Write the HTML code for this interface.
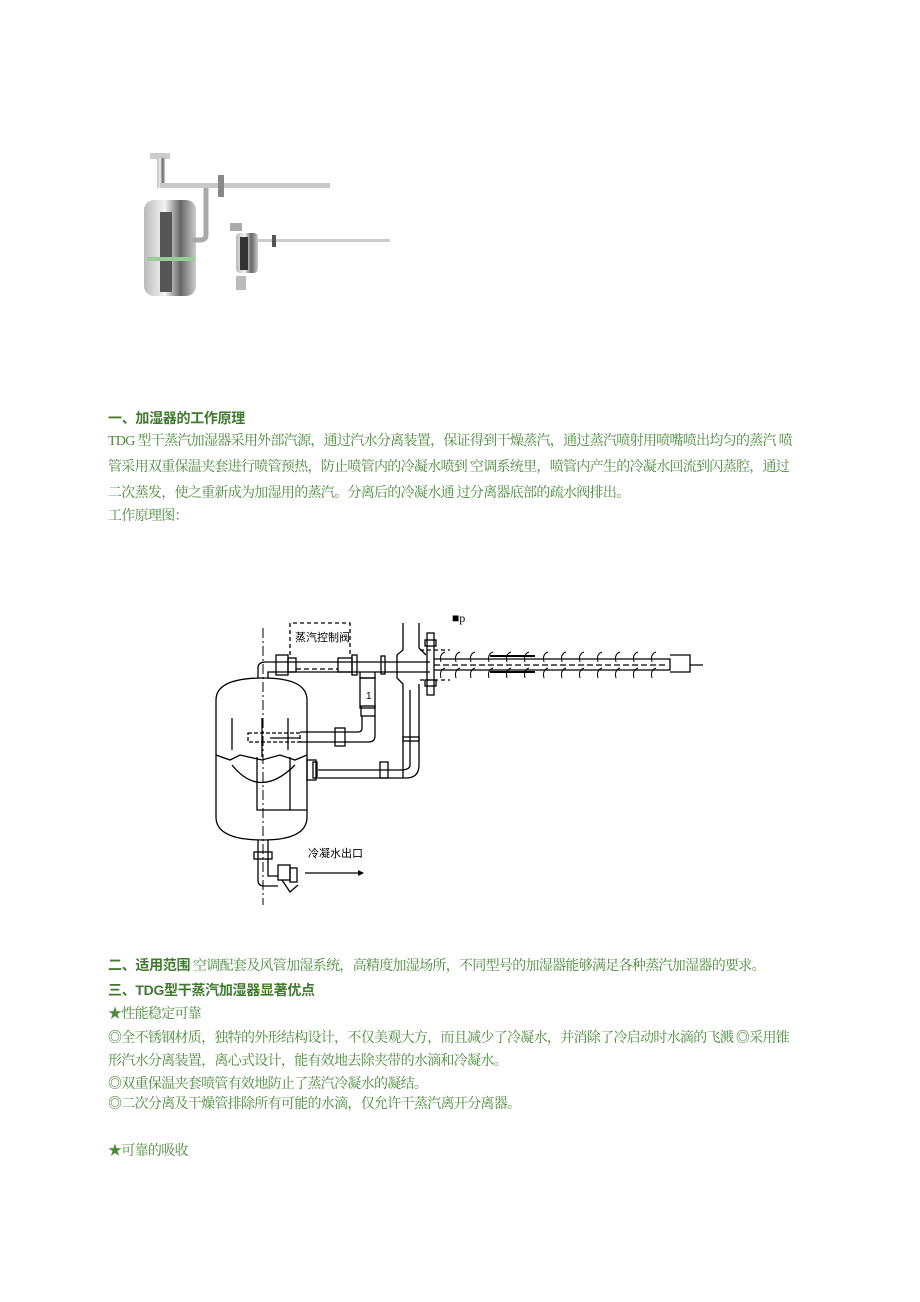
<!DOCTYPE html>
<html><head><meta charset="utf-8"><style>
body{margin:0;background:#fff;width:920px;height:1302px;position:relative;overflow:hidden;font-family:"Liberation Serif","Noto Serif CJK SC","Noto Sans CJK SC",serif;}
.t{position:absolute;left:108px;font-size:14px;color:#4a8a3a;white-space:nowrap;letter-spacing:-0.7px;line-height:16px}
.b{font-weight:bold;color:#3f7a2f;font-family:"Liberation Sans","Noto Sans CJK SC",sans-serif;letter-spacing:-0.3px}
</style></head><body>
<svg style="position:absolute;left:0;top:0" width="920" height="1302">
<defs><linearGradient id="m" x1="0" x2="1"><stop offset="0" stop-color="#bbb"/><stop offset=".4" stop-color="#f2f2f2"/><stop offset=".7" stop-color="#666"/><stop offset="1" stop-color="#ccc"/></linearGradient></defs>
<rect x="150" y="153" width="20" height="6" fill="#ccc"/>
<rect x="157" y="158" width="8" height="30" fill="url(#m)"/>
<rect x="160" y="183" width="170" height="5" fill="#c8c8c8"/>
<rect x="218" y="175" width="6" height="22" fill="#888"/>
<rect x="144" y="200" width="52" height="96" rx="10" fill="url(#m)"/>
<rect x="160" y="212" width="12" height="80" fill="#555"/>
<rect x="147" y="257" width="48" height="4" fill="#9c9"/>
<path d="M206 188 V235 Q206 240 200 240 H190" stroke="#aaa" stroke-width="5" fill="none"/>
<rect x="236" y="233" width="22" height="40" rx="4" fill="url(#m)"/>
<rect x="240" y="237" width="8" height="33" fill="#333"/>
<rect x="258" y="239" width="132" height="3" fill="#ccc"/>
<rect x="272" y="235" width="4" height="12" fill="#555"/>
<rect x="230" y="223" width="12" height="8" fill="#aaa"/>
<rect x="236" y="276" width="10" height="14" fill="#bbb"/>
<g stroke="#000" stroke-width="1.3" fill="none">
<line x1="263" y1="628" x2="263" y2="905" stroke-dasharray="10,3,2,3" stroke-width="1"/>
<path d="M216 700 Q216 678 263 678 Q307 678 307 700 V817 Q307 840 263 840 Q216 840 216 817 Z"/>
<path d="M258 678 V668 Q258 662 266 662 H430 M268 678 V672 H430"/>
<rect x="276" y="655" width="12" height="20"/><rect x="288" y="658" width="8" height="14"/>
<rect x="338" y="658" width="14" height="14"/><rect x="352" y="655" width="5" height="20"/>
<rect x="381" y="656" width="4" height="18"/>
<path d="M290 655 V623 H350 V655" stroke-dasharray="4,3"/>
<path d="M296 669 H338" stroke-dasharray="5,3"/>
<path d="M360 672 V678 H375 V672"/>
<rect x="360" y="678" width="15" height="30"/>
<rect x="361" y="706" width="14" height="10"/>
<path d="M362 716 V728 Q362 732 358 732 H300 M375 716 V736 Q375 742 368 742 H300"/>
<rect x="335" y="728" width="10" height="18"/>
<path d="M248 733 H300 V742 H248 Z" stroke-dasharray="4,2"/>
<line x1="270" y1="738" x2="300" y2="738"/>
<path d="M232 718 V750 M288 718 V750 M262 718 V757"/>
<path d="M403 623 V650 L397 655 V678 L403 684 V778 M419 623 V648 L426 655 M419 684 V765 Q419 778 406 778 H318 M410 690 V765 Q410 770 400 770 H318"/>
<rect x="403" y="737" width="16" height="4"/>
<rect x="380" y="762" width="8" height="16"/>
<rect x="307" y="760" width="9" height="20"/><rect x="313" y="762" width="4" height="16"/>
<rect x="427" y="633" width="7" height="62"/>
<rect x="425" y="640" width="11" height="6"/><rect x="425" y="680" width="11" height="6"/>
<path d="M434 659 H670 V670 H434 M670 655 H690 V672 H670 M690 665 H703"/>
<line x1="434" y1="665" x2="665" y2="665" stroke-dasharray="6,3"/>
<path d="M420 650 H450 M420 680 H450" stroke-dasharray="4,3"/>
<path d="M490 656 H535 M490 672 H535" stroke-width="2"/>
<path d="M216 755 L230 760 L240 755 L262 760 L280 755 L295 760 L307 755"/>
<path d="M257 757 V810 H307 M290 757 V810"/>
<path d="M232 765 Q260 800 295 765"/>
<path d="M258 840 V880 Q258 886 264 886 H278 M268 840 V876 H278"/>
<rect x="254" y="852" width="18" height="7"/>
<rect x="278" y="865" width="12" height="15"/><rect x="290" y="868" width="7" height="14"/>
<path d="M282 880 L290 892 L298 885"/>
<line x1="305" y1="873" x2="358" y2="873"/>
</g>
<polygon points="358,870 364,873 358,876" fill="#000"/>
<g stroke="#000" stroke-width="1" fill="none">
<path d="M445 652 q-6 2 -4 10 M460 652 q-6 2 -4 10 M475 652 q-6 2 -4 10 M493 652 q-6 2 -4 10 M511 652 q-6 2 -4 10 M529 652 q-6 2 -4 10 M548 652 q-6 2 -4 10 M566 652 q-6 2 -4 10 M584 652 q-6 2 -4 10 M602 652 q-6 2 -4 10 M620 652 q-6 2 -4 10 M638 652 q-6 2 -4 10 M656 652 q-6 2 -4 10"/>
<path d="M445 668 q-6 2 -4 10 M460 668 q-6 2 -4 10 M475 668 q-6 2 -4 10 M493 668 q-6 2 -4 10 M511 668 q-6 2 -4 10 M529 668 q-6 2 -4 10 M548 668 q-6 2 -4 10 M566 668 q-6 2 -4 10 M584 668 q-6 2 -4 10 M602 668 q-6 2 -4 10 M620 668 q-6 2 -4 10 M638 668 q-6 2 -4 10 M656 668 q-6 2 -4 10"/>
</g>
<text x="295" y="641" font-size="11" font-family="Noto Sans CJK SC,sans-serif">蒸汽控制阀</text>
<text x="366" y="699" font-size="10" font-family="Liberation Sans,sans-serif">1</text>
<text x="452" y="622" font-size="12" font-family="Liberation Serif,serif">■p</text>
<text x="308" y="857" font-size="11" font-family="Noto Sans CJK SC,sans-serif">冷凝水出口</text>
</svg>
<div class="t b" style="top:410px">一、加湿器的工作原理</div>
<div class="t" style="top:434px">TDG 型干蒸汽加湿器采用外部汽源，通过汽水分离装置，保证得到干燥蒸汽，通过蒸汽喷射用喷嘴喷出均匀的蒸汽 喷</div>
<div class="t" style="top:460px">管采用双重保温夹套进行喷管预热，防止喷管内的冷凝水喷到 空调系统里，喷管内产生的冷凝水回流到闪蒸腔，通过</div>
<div class="t" style="top:486px">二次蒸发，使之重新成为加湿用的蒸汽。分离后的冷凝水通 过分离器底部的疏水阀排出。</div>
<div class="t" style="top:509px">工作原理图：</div>
<div class="t" style="top:957px"><span class="b">二、适用范围</span> 空调配套及风管加湿系统，高精度加湿场所，不同型号的加湿器能够满足各种蒸汽加湿器的要求。</div>
<div class="t b" style="top:982px">三、TDG型干蒸汽加湿器显著优点</div>
<div class="t" style="top:1007px">★性能稳定可靠</div>
<div class="t" style="top:1031px">◎全不锈钢材质，独特的外形结构设计，不仅美观大方，而且减少了冷凝水，并消除了冷启动时水滴的飞溅 ◎采用锥</div>
<div class="t" style="top:1054px">形汽水分离装置，离心式设计，能有效地去除夹带的水滴和冷凝水。</div>
<div class="t" style="top:1077px">◎双重保温夹套喷管有效地防止了蒸汽冷凝水的凝结。</div>
<div class="t" style="top:1097px">◎二次分离及干燥管排除所有可能的水滴，仅允许干蒸汽离开分离器。</div>
<div class="t" style="top:1144px">★可靠的吸收</div>
</body></html>
